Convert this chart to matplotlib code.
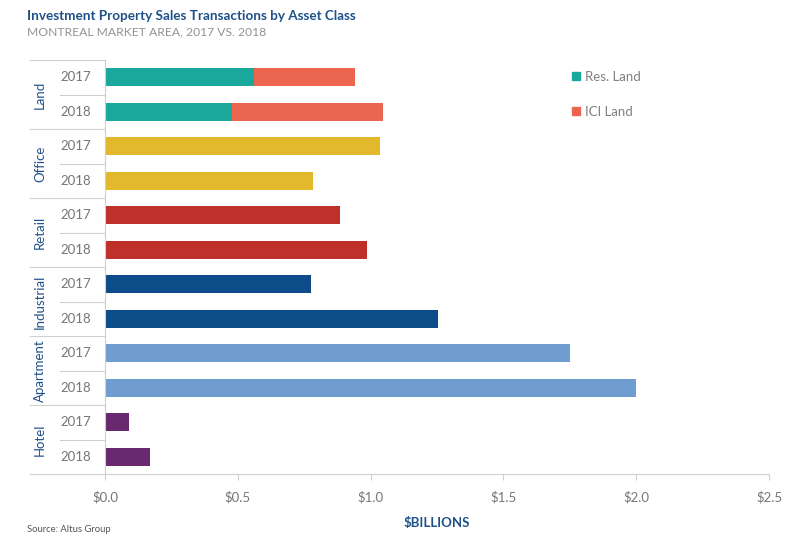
import matplotlib.pyplot as plt
from matplotlib.lines import Line2D
from matplotlib.transforms import blended_transform_factory
import numpy as np

plt.rcParams['font.family'] = ['Lato', 'DejaVu Sans']

# Data ($ billions)
groups = ['Land', 'Office', 'Retail', 'Industrial', 'Apartment', 'Hotel']
years = ['2017', '2018']
res_land = [0.56, 0.48]
ici_land = [0.38, 0.565]
office = [1.037, 0.785]
retail = [0.883, 0.985]
industrial = [0.777, 1.252]
apartment = [1.749, 2.001]
hotel = [0.092, 0.171]

col_res = '#1aa89c'
col_ici = '#eb654f'
group_colors = {'Office': '#e2b82d', 'Retail': '#c0302a', 'Industrial': '#0e4b89',
                'Apartment': '#6f9dd2', 'Hotel': '#69296f'}
blue_txt = '#1f5189'
grey_txt = '#767676'
line_col = '#cfcfcf'

fig = plt.figure(figsize=(7.97, 5.38), dpi=100)
ax = fig.add_axes([105 / 797, 1 - 474 / 538, 664 / 797, 414 / 538])

bar_h = 0.53
pos = np.arange(12)

# Land stacked
ax.barh(pos[0:2], res_land, height=bar_h, color=col_res)
ax.barh(pos[0:2], ici_land, left=res_land, height=bar_h, color=col_ici)
others = [office, retail, industrial, apartment, hotel]
for i, (name, vals) in enumerate(zip(groups[1:], others)):
    ax.barh(pos[2 * (i + 1):2 * (i + 1) + 2], vals, height=bar_h, color=group_colors[name])

ax.set_ylim(11.5, -0.5)
ax.set_xlim(0, 2.5)
ax.set_xticks(np.arange(0, 2.51, 0.5))
ax.set_xticklabels(['$%.1f' % v for v in np.arange(0, 2.51, 0.5)])
ax.tick_params(axis='x', colors=line_col, labelcolor=grey_txt, labelsize=9.5,
               length=4, width=0.8, pad=8)
ax.set_yticks([])
for s in ['top', 'right', 'bottom']:
    ax.spines[s].set_visible(False)
ax.spines['left'].set_color(line_col)
ax.spines['left'].set_linewidth(0.8)

ax.set_xlabel('$BILLIONS', color=blue_txt, fontsize=9.5, fontweight='bold', labelpad=10)

# Left-hand category structure
tr = blended_transform_factory(ax.transAxes, ax.transData)
x_far = (30 - 105) / 664
x_near = (60 - 105) / 664
for k in range(13):
    yb = k - 0.5
    x0 = x_far if k % 2 == 0 else x_near
    x1 = 1.0 if k == 12 else 0
    ax.plot([x0, x1], [yb, yb], color=line_col, lw=0.8, transform=tr, clip_on=False)

for i, g in enumerate(groups):
    ax.text((40 - 105) / 664, 2 * i + 0.5, g, rotation=90, ha='center', va='center',
            color=blue_txt, fontsize=9.5, transform=tr)
    for j, yr in enumerate(years):
        ax.text((75.5 - 105) / 664, 2 * i + j, yr, ha='center', va='center',
                color=grey_txt, fontsize=9.5, transform=tr)

handles = [Line2D([], [], marker='s', ls='', color=col_res, markersize=5.5),
           Line2D([], [], marker='s', ls='', color=col_ici, markersize=5.5)]
leg = ax.legend(handles, ['Res. Land', 'ICI Land'], loc='upper left',
                bbox_to_anchor=((560 - 105) / 664, 1.002), frameon=False,
                handlelength=0.6, handletextpad=0.4, labelspacing=1.72, fontsize=9.5)
for t in leg.get_texts():
    t.set_color('#808080')

fig.text(27 / 797, 1 - 16 / 538, 'Investment Property Sales Transactions by Asset Class',
         color=blue_txt, fontsize=9.7, fontweight='bold', va='center')
fig.text(27 / 797, 1 - 32 / 538, 'MONTREAL MARKET AREA, 2017 VS. 2018',
         color='#929292', fontsize=8.7, va='center')
fig.text(27 / 797, 1 - 529 / 538, 'Source: Altus Group', color='#555555',
         fontsize=6.8, va='center')

fig.savefig('out.png', dpi=100)
